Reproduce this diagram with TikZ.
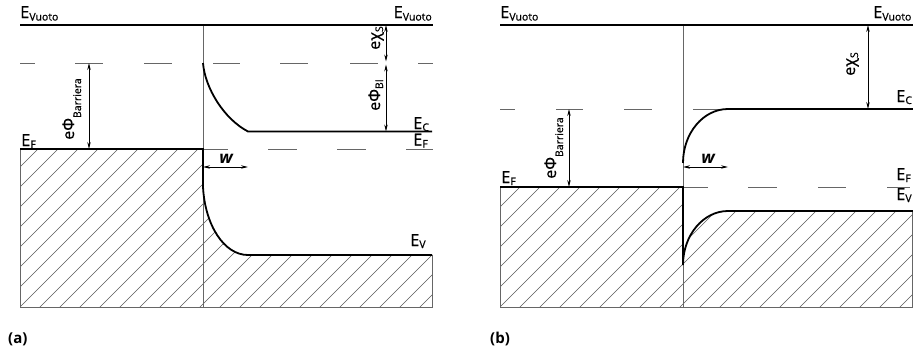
\documentclass[tikz,border=0pt]{standalone}
\usepackage{fontspec}
\setmainfont{Open Sans}
\newfontfamily\lblfont[FakeBold=0.7]{Open Sans}
\usetikzlibrary{arrows.meta}
\newcommand\lowsub[2][2.5pt]{\raisebox{-#1}{\fontsize{10.5}{10.5}\selectfont #2}}
\begin{document}
\begin{tikzpicture}[x=1pt,y=-1pt,
  band/.style={line width=1.8pt},
  divider/.style={line width=0.8pt, black!60},
  dsh/.style={line width=0.8pt, black!60},
  hatchline/.style={line width=0.45pt, black!65},
  hatchborder/.style={line width=0.8pt, black!60},
  dim/.style={line width=0.6pt, {Stealth[length=7pt,width=3.4pt]}-{Stealth[length=7pt,width=3.4pt]}},
  lbl/.style={font=\lblfont\fontsize{16.5}{16.5}\selectfont, inner sep=0pt, anchor=base west},
  rlbl/.style={font=\lblfont\fontsize{16}{16}\selectfont, inner sep=0pt, rotate=90, anchor=base},
  wlbl/.style={font=\fontsize{17}{17}\selectfont\bfseries\itshape, inner sep=0pt, anchor=base},
  panel/.style={font=\fontsize{15}{15}\selectfont\bfseries, inner sep=0pt, anchor=base west},
]
\useasboundingbox (0,0) rectangle (913,354);
\clip (0,0) rectangle (913,354);

% ================= panel (a) =================
\begin{scope}
  \clip (20,149) rectangle (203,307);
  \foreach \c in {147,167,...,527} \draw[hatchline] (\c,0) -- (\c-400,400);
\end{scope}
\begin{scope}
  \clip (203,187) .. controls (205,225) and (224,255) .. (248,255) -- (432,255) -- (432,307) -- (203,307) -- cycle;
  \foreach \c in {387,407,...,767} \draw[hatchline] (\c,0) -- (\c-400,400);
\end{scope}
\draw[hatchborder] (20,149) -- (20,307) -- (432,307) -- (432,255);
\draw[divider] (203,25) -- (203,307);
\foreach \a/\b in {20/35,75/103,144/172,213/240,280/308,350/378,418/433}
  \draw[dsh] (\a,63) -- (\b,63);
\foreach \a/\b in {203/228,268/297,337/366,406/433}
  \draw[dsh] (\a,149) -- (\b,149);
\draw[band] (20,25) -- (433,25);
\draw[band] (20,149) -- (203,149) -- (203,187) .. controls (205,225) and (224,255) .. (248,255) -- (432,255);
\draw[band] (203,63) .. controls (205,88) and (224,119) .. (248,131.5) -- (432,131.5);
\coordinate (aB1) at (89,63);  \coordinate (aB2) at (89,149);
\coordinate (aX1) at (386,25); \coordinate (aX2) at (386,61.5);
\coordinate (aP1) at (386,64.5); \coordinate (aP2) at (386,131.5);
\coordinate (aW1) at (203,167); \coordinate (aW2) at (248,167);
\draw[dim] (aB1) -- (aB2);
\draw[dim] (aX1) -- (aX2);
\draw[dim] (aP1) -- (aP2);
\draw[dim] (aW1) -- (aW2);
\node[lbl] (aEvl) at (20,18) {E\lowsub{Vuoto}};
\node[lbl, anchor=base east] (aEvr) at (432,18) {E\lowsub{Vuoto}};
\node[lbl] (aEfl) at (21,146) {E\lowsub[2pt]{F}};
\node[lbl] (aEc) at (413,129) {E\lowsub[2pt]{C}};
\node[lbl] (aEfr) at (413,145.5) {E\lowsub[2pt]{F}};
\node[lbl] (aEv) at (410,246) {E\lowsub[2pt]{V}};
\node[rlbl] (aBar) at (74,109) {eΦ\lowsub[7pt]{Barriera}};
\node[rlbl] (aChi) at (380,38) {eχ\lowsub[3pt]{S}};
\node[rlbl] (aBI) at (380,95) {eΦ\lowsub[3pt]{BI}};
\node[wlbl] (aw) at (226,163) {w};
\node[panel] (alab) at (8,343) {(a)};

% ================= panel (b) =================
\begin{scope}
  \clip (500,187) rectangle (683,307);
  \foreach \c in {667,687,...,1007} \draw[hatchline] (\c,0) -- (\c-400,400);
\end{scope}
\begin{scope}
  \clip (683,265) .. controls (683,235.2) and (703.2,211) .. (728,211) -- (912,211) -- (912,307) -- (683,307) -- cycle;
  \foreach \c in {867,887,...,1247} \draw[hatchline] (\c,0) -- (\c-400,400);
\end{scope}
\draw[hatchborder] (500,187) -- (500,307) -- (912,307) -- (912,211);
\draw[divider] (683,25) -- (683,307);
\foreach \a/\b in {500/515,556/583,624/652,693/720}
  \draw[dsh] (\a,109) -- (\b,109);
\foreach \a/\b in {683/708,748/777,818/846,887/910}
  \draw[dsh] (\a,187) -- (\b,187);
\draw[band] (500,25) -- (913,25);
\draw[band] (500,187) -- (683,187) -- (683,265) .. controls (683,235.2) and (703.2,211) .. (728,211) -- (913,211);
\draw[band] (683,163) .. controls (683,133.2) and (703.2,109) .. (728,109) -- (913,109);
\coordinate (bB1) at (569,109); \coordinate (bB2) at (569,187);
\coordinate (bX1) at (868,25);  \coordinate (bX2) at (868,109);
\coordinate (bW1) at (683,167); \coordinate (bW2) at (728,167);
\draw[dim] (bB1) -- (bB2);
\draw[dim] (bX1) -- (bX2);
\draw[dim] (bW1) -- (bW2);
\node[lbl] (bEvl) at (500,18) {E\lowsub{Vuoto}};
\node[lbl] (bEvr) at (873,18) {E\lowsub{Vuoto}};
\node[lbl] (bEfl) at (501,183) {E\lowsub[2pt]{F}};
\node[lbl] (bEc) at (896,102) {E\lowsub[2pt]{C}};
\node[lbl] (bEfr) at (896,180) {E\lowsub[2pt]{F}};
\node[lbl] (bEv) at (896,200) {E\lowsub[2pt]{V}};
\node[rlbl] (bBar) at (556,148) {eΦ\lowsub[7pt]{Barriera}};
\node[rlbl] (bChi) at (855,64) {eχ\lowsub[3pt]{S}};
\node[wlbl] (bw) at (708,163) {w};
\node[panel] (blab) at (490,343) {(b)};
\end{tikzpicture}
\end{document}
